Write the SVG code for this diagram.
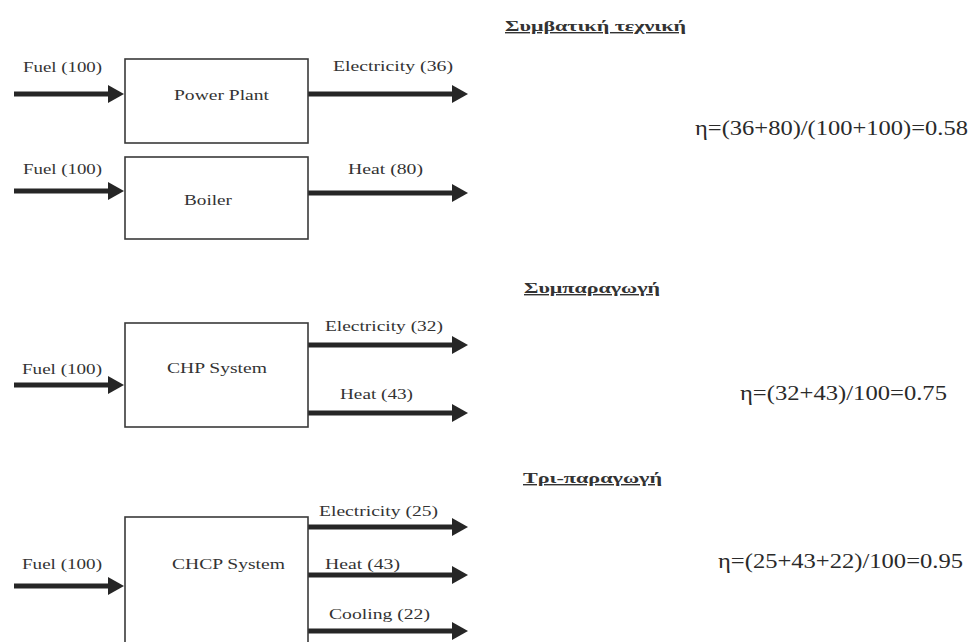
<svg xmlns="http://www.w3.org/2000/svg" width="969" height="642" viewBox="0 0 969 642">
<style>
.bg{fill:#ffffff}
.box{fill:#ffffff;stroke:#3a3a3a;stroke-width:1.6}
.lbl{font-family:"Liberation Serif","Times New Roman",serif;font-size:15px;fill:#333333}
.hd{font-family:"Liberation Serif","Times New Roman",serif;font-size:14px;font-weight:bold;fill:#333333;text-decoration:underline}
.eq{font-family:"Liberation Serif","Times New Roman",serif;font-size:20px;fill:#2a2a2a}
.arr{stroke:#262626;stroke-width:5;fill:none;marker-end:url(#ah)}
</style>
<defs>
<marker id="ah" viewBox="0 0 16 18" refX="2" refY="9" markerWidth="16" markerHeight="18" markerUnits="userSpaceOnUse" orient="auto">
<path d="M0,0 L16,9 L0,18 z" fill="#262626"/>
</marker>
</defs>
<rect class="bg" x="0" y="0" width="969" height="642"/>

<g id="connectors">
<line class="arr" x1="14" y1="94" x2="110" y2="94"/>
<line class="arr" x1="308" y1="94" x2="454" y2="94"/>
<line class="arr" x1="14" y1="191" x2="110" y2="191"/>
<line class="arr" x1="308" y1="193" x2="454" y2="193"/>
<line class="arr" x1="14" y1="385" x2="110" y2="385"/>
<line class="arr" x1="308" y1="345" x2="454" y2="345"/>
<line class="arr" x1="308" y1="413" x2="454" y2="413"/>
<line class="arr" x1="14" y1="586" x2="110" y2="586"/>
<line class="arr" x1="308" y1="527" x2="454" y2="527"/>
<line class="arr" x1="308" y1="575" x2="454" y2="575"/>
<line class="arr" x1="308" y1="631" x2="454" y2="631"/>
</g>

<g id="labels">
<text class="lbl" x="23" y="72" textLength="79" lengthAdjust="spacingAndGlyphs">Fuel (100)</text>
<text class="lbl" x="333" y="71" textLength="120" lengthAdjust="spacingAndGlyphs">Electricity (36)</text>
<text class="lbl" x="23" y="174" textLength="79" lengthAdjust="spacingAndGlyphs">Fuel (100)</text>
<text class="lbl" x="348" y="174" textLength="75" lengthAdjust="spacingAndGlyphs">Heat (80)</text>
<text class="lbl" x="22" y="374" textLength="80" lengthAdjust="spacingAndGlyphs">Fuel (100)</text>
<text class="lbl" x="325" y="331" textLength="118" lengthAdjust="spacingAndGlyphs">Electricity (32)</text>
<text class="lbl" x="340" y="399" textLength="73" lengthAdjust="spacingAndGlyphs">Heat (43)</text>
<text class="lbl" x="22" y="569" textLength="80" lengthAdjust="spacingAndGlyphs">Fuel (100)</text>
<text class="lbl" x="319" y="516" textLength="119" lengthAdjust="spacingAndGlyphs">Electricity (25)</text>
<text class="lbl" x="325" y="569" textLength="75" lengthAdjust="spacingAndGlyphs">Heat (43)</text>
<text class="lbl" x="329" y="619" textLength="101" lengthAdjust="spacingAndGlyphs">Cooling (22)</text>
</g>

<g id="power-plant">
<rect class="box" x="125" y="59" width="183" height="84"/>
<text class="lbl" x="174" y="100" textLength="95" lengthAdjust="spacingAndGlyphs">Power Plant</text>
</g>
<g id="boiler">
<rect class="box" x="125" y="157" width="183" height="82"/>
<text class="lbl" x="184" y="205" textLength="48" lengthAdjust="spacingAndGlyphs">Boiler</text>
</g>
<g id="chp-system">
<rect class="box" x="125" y="323" width="183" height="104"/>
<text class="lbl" x="167" y="373" textLength="100" lengthAdjust="spacingAndGlyphs">CHP System</text>
</g>
<g id="chcp-system">
<rect class="box" x="125" y="517" width="183" height="140"/>
<text class="lbl" x="172" y="569" textLength="113" lengthAdjust="spacingAndGlyphs">CHCP System</text>
</g>

<g id="headings">
<text class="hd" x="505" y="31" textLength="181" lengthAdjust="spacingAndGlyphs">Συμβατική τεχνική</text>
<text class="hd" x="524" y="293" textLength="136" lengthAdjust="spacingAndGlyphs">Συμπαραγωγή</text>
<text class="hd" x="523" y="483" textLength="139" lengthAdjust="spacingAndGlyphs">Τρι-παραγωγή</text>
</g>

<g id="equations">
<text class="eq" x="695" y="135" textLength="273" lengthAdjust="spacingAndGlyphs">η=(36+80)/(100+100)=0.58</text>
<text class="eq" x="740" y="400" textLength="207" lengthAdjust="spacingAndGlyphs">η=(32+43)/100=0.75</text>
<text class="eq" x="718" y="568" textLength="245" lengthAdjust="spacingAndGlyphs">η=(25+43+22)/100=0.95</text>
</g>
</svg>
